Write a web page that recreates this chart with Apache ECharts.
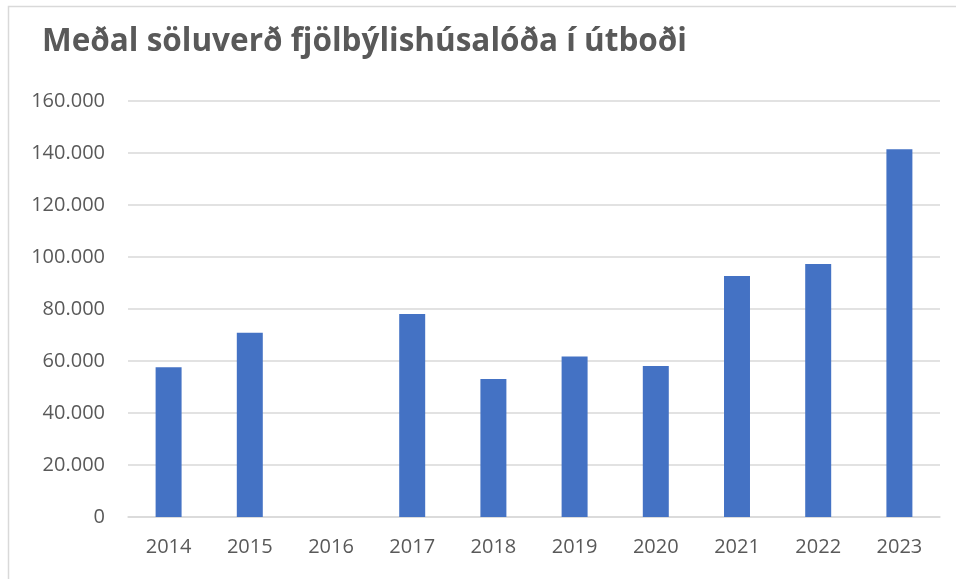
<!DOCTYPE html>
<html>
<head>
<meta charset="utf-8">
<script src="https://cdn.jsdelivr.net/npm/echarts@6/dist/echarts.min.js"></script>
<style>html,body{margin:0;padding:0;background:#fff;}#c{width:956px;height:579px;}</style>
</head>
<body>
<div id="c"></div>
<script>
const titleText = "Meðal söluverð fjölbýlishúsalóða í útboði";
const years = ["2014","2015","2016","2017","2018","2019","2020","2021","2022","2023"];
const values = [57600, 70900, null, 78100, 53100, 61700, 58100, 92700, 97300, 141400];

const chart = echarts.init(document.getElementById('c'), null, {renderer: 'canvas'});
chart.setOption({
  animation: false,
  backgroundColor: '#ffffff',
  title: {
    text: titleText,
    left: 37, top: 21,
    textStyle: {fontFamily: 'Open Sans', fontWeight: 'bold', fontSize: 31.5, color: '#595959'}
  },
  graphic: [{
    type: 'rect', silent: true,
    shape: {x: 8.5, y: 6.5, width: 1000, height: 1000},
    style: {fill: 'none', stroke: '#d9d9d9', lineWidth: 1.5}
  }],
  grid: {left: 128, right: 16, top: 101, bottom: 62, containLabel: false},
  xAxis: {
    type: 'category', data: years,
    axisLine: {show: true, lineStyle: {color: '#d9d9d9', width: 1.5}},
    axisTick: {show: false},
    axisLabel: {color: '#595959', fontSize: 20, fontFamily: 'Open Sans', margin: 20}
  },
  yAxis: {
    type: 'value', min: 0, max: 160000, interval: 20000,
    axisLine: {show: false}, axisTick: {show: false},
    splitLine: {lineStyle: {color: '#d9d9d9', width: 1.5}},
    axisLabel: {
      color: '#595959', fontSize: 20, fontFamily: 'Open Sans', margin: 23,
      formatter: v => v === 0 ? '0' : String(v).replace(/\B(?=(\d{3})+(?!\d))/g, '.')
    }
  },
  series: [{
    type: 'bar', data: values, barWidth: '32%',
    itemStyle: {color: '#4472c4'}
  }]
});
</script>
</body>
</html>
